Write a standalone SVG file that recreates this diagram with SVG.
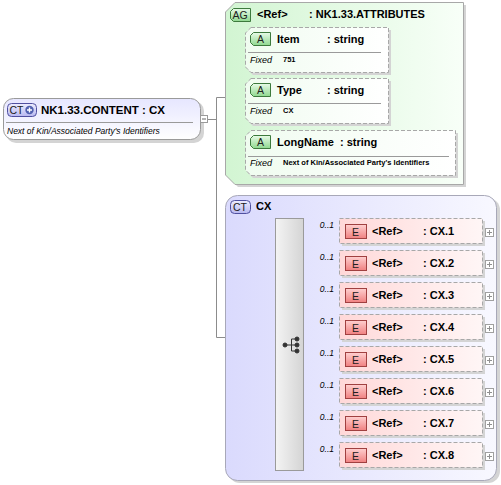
<svg xmlns="http://www.w3.org/2000/svg" width="501" height="485" viewBox="0 0 501 485">
<defs>
<linearGradient id="gNode" x1="0" y1="0" x2="0" y2="1"><stop offset="0" stop-color="#e6e6ff"/><stop offset="1" stop-color="#ffffff"/></linearGradient>
<linearGradient id="gAG" x1="0" y1="0" x2="1" y2="0"><stop offset="0" stop-color="#d2f5d2"/><stop offset="1" stop-color="#f8fff8"/></linearGradient>
<linearGradient id="gCT" x1="0" y1="0" x2="1" y2="0"><stop offset="0" stop-color="#dadafd"/><stop offset="1" stop-color="#f8f8ff"/></linearGradient>
<linearGradient id="gAttr" x1="0" y1="0" x2="1" y2="0"><stop offset="0" stop-color="#f0fcf0"/><stop offset="1" stop-color="#ffffff"/></linearGradient>
<linearGradient id="gEl" x1="0" y1="0" x2="1" y2="0"><stop offset="0" stop-color="#ffd8d8"/><stop offset="1" stop-color="#fff6f6"/></linearGradient>
<linearGradient id="gSeq" x1="0" y1="0" x2="1" y2="0"><stop offset="0" stop-color="#f4f4f4"/><stop offset="1" stop-color="#d4d4d4"/></linearGradient>
<linearGradient id="gA" x1="0" y1="0" x2="0" y2="1"><stop offset="0" stop-color="#e8fbe8"/><stop offset="1" stop-color="#8fd88f"/></linearGradient>
<linearGradient id="gE" x1="0" y1="0" x2="0" y2="1"><stop offset="0" stop-color="#ffd0d0"/><stop offset="1" stop-color="#f08080"/></linearGradient>
<linearGradient id="gB" x1="0" y1="0" x2="0" y2="1"><stop offset="0" stop-color="#eeeeff"/><stop offset="1" stop-color="#b8b8f0"/></linearGradient>
</defs>
<style>
text{font-family:"Liberation Sans",Arial,sans-serif;fill:#000}
.ln{stroke:#8c8c8c;stroke-width:1;fill:none}
.sh{fill:#d4d4d4}
.attr{fill:url(#gAttr);stroke:#a8a8a8;stroke-dasharray:4,2}
.el{fill:url(#gEl);stroke:#a8a8a8;stroke-dasharray:4,2}
.sep{stroke:#9a9a9a;stroke-width:1}
.bA{fill:url(#gA);stroke:#3d7a3d;stroke-width:1}
.bE{fill:url(#gE);stroke:#a04040;stroke-width:1}
.bB{fill:url(#gB);stroke:#5050a0;stroke-width:1}
.bt{font-size:10.5px;fill:#202020}
.t11{font-size:11px;font-weight:bold}
.fx{font-size:9px;font-style:italic}
.fv{font-size:7.5px;font-weight:bold}
.oc{font-size:8.5px;font-style:italic}
.pl{fill:#ffffff;stroke:#a0a0a0}
.pp{stroke:#909090;stroke-width:1}
</style>
<g id="connectors">
<path class="ln" d="M208,119.5 H216.5 M216.5,97.5 V337.5 M216.5,97.5 H235.5 M216.5,337.5 H225"/>
<path class="ln" d="M235.5,48.5 V151.5 M235.5,48.5 H245 M235.5,100.5 H245 M235.5,151.5 H245"/>
<path class="ln" d="M225,345.5 H276"/>
<path class="ln" d="M304,231.5 H340 M304,263.5 H340 M304,295.5 H340 M304,327.5 H340 M304,359.5 H340 M304,391.5 H340 M304,423.5 H340 M304,455.5 H340"/>
<text x="270" y="342" class="oc" text-anchor="end">[1]..[1]</text>
</g>
<g id="nk1_33_content">
<rect x="6" y="101" width="198" height="42" rx="10" class="sh"/>
<rect x="3.5" y="98.5" width="197" height="41" rx="10" fill="url(#gNode)" stroke="#9a9a9a"/>
<rect x="7.5" y="103.5" width="29" height="13" rx="4" class="bB"/>
<text x="9.5" y="114" class="bt">CT</text>
<circle cx="29.5" cy="110" r="4.2" fill="#5060b0"/>
<path d="M27,110 H32 M29.5,107.5 V112.5" stroke="#fff" stroke-width="1.4"/>
<text x="41" y="114" font-size="11.5" font-weight="bold">NK1.33.CONTENT : CX</text>
<line x1="6" y1="122.5" x2="193" y2="122.5" class="sep"/>
<text x="7" y="134" font-size="8.5" font-style="italic">Next of Kin/Associated Party's Identifiers</text>
<rect x="200.5" y="115.5" width="7" height="7" fill="#fff" stroke="#9a9a9a"/>
<path d="M202,119 H206" stroke="#666"/>
</g>
<g id="nk1_33_attributes">
<path d="M238,5 H466 V187 H238 L228,177 V15 Z" class="sh"/>
<path d="M235,2.5 H463.5 V184.5 H235 L225.5,175 V12 Z" fill="url(#gAG)" stroke="#a8a8a8"/>
<path d="M233.5,8.5 H250.5 V21.5 H233.5 L230.5,18.5 V11.5 Z" class="bA"/>
<text x="232.5" y="19" class="bt" font-size="9.5px">AG</text>
<text x="257" y="18" class="t11">&lt;Ref&gt;</text>
<text x="309" y="18" class="t11">: NK1.33.ATTRIBUTES</text>
</g>
<g id="attr_item">
<path d="M253,30 H391 V75 H253 L248,70 V35 Z" class="sh"/>
<path d="M251,27.5 H388.5 V72.5 H251 L245.5,67 V33 Z" class="attr"/>
<path d="M253.5,32.5 H270.5 V45.5 H253.5 L250.5,42.5 V35.5 Z" class="bA"/>
<text x="257" y="43" class="bt">A</text>
<text x="277" y="43" class="t11">Item</text>
<text x="327" y="43" class="t11">: string</text>
<line x1="248" y1="52.5" x2="381" y2="52.5" class="sep"/>
<text x="250" y="63" class="fx">Fixed</text>
<text x="283" y="62" class="fv">751</text>
</g>
<g id="attr_type">
<path d="M253,81 H391 V126 H253 L248,121 V86 Z" class="sh"/>
<path d="M251,78.5 H388.5 V123.5 H251 L245.5,118 V84 Z" class="attr"/>
<path d="M253.5,83.5 H270.5 V96.5 H253.5 L250.5,93.5 V86.5 Z" class="bA"/>
<text x="257" y="94" class="bt">A</text>
<text x="277" y="94" class="t11">Type</text>
<text x="327" y="94" class="t11">: string</text>
<line x1="248" y1="103.5" x2="381" y2="103.5" class="sep"/>
<text x="250" y="114" class="fx">Fixed</text>
<text x="283" y="113" class="fv">CX</text>
</g>
<g id="attr_longname">
<path d="M253,133 H458 V178 H253 L248,173 V138 Z" class="sh"/>
<path d="M251,130.5 H455.5 V175.5 H251 L245.5,170 V136 Z" class="attr"/>
<path d="M253.5,135.5 H270.5 V148.5 H253.5 L250.5,145.5 V138.5 Z" class="bA"/>
<text x="257" y="146" class="bt">A</text>
<text x="277" y="146" class="t11">LongName</text>
<text x="340" y="146" class="t11">: string</text>
<line x1="248" y1="156.5" x2="449" y2="156.5" class="sep"/>
<text x="250" y="166" class="fx">Fixed</text>
<text x="283" y="165" class="fv">Next of Kin/Associated Party's Identifiers</text>
</g>
<g id="cx_type">
<rect x="228" y="198" width="272" height="285" rx="12" class="sh"/>
<rect x="225.5" y="195.5" width="271" height="285" rx="12" fill="url(#gCT)" stroke="#a8a8b8"/>
<rect x="230.5" y="200.5" width="20" height="13" rx="4" class="bB"/>
<text x="233" y="211" class="bt">CT</text>
<text x="256" y="210" class="t11">CX</text>
</g>
<g id="sequence">
<rect x="275.5" y="218.5" width="28" height="252" fill="url(#gSeq)" stroke="#9a9a9a"/>
<g fill="#333" stroke="#333">
<circle cx="285" cy="345" r="2"/>
<circle cx="297" cy="339" r="2"/>
<circle cx="297" cy="345" r="2"/>
<circle cx="297" cy="351" r="2"/>
<path d="M285,345 H297 M291.5,339 V351 M291.5,339 H297 M291.5,351 H297" fill="none" stroke-width="1"/>
</g>
</g>
<g id="cx1">
<rect x="342" y="221" width="143" height="25" class="sh"/>
<rect x="339.5" y="218.5" width="143" height="25" class="el"/>
<rect x="345.5" y="224.5" width="21" height="14" class="bE"/>
<text x="352" y="235.5" class="bt">E</text>
<text x="372" y="235" class="t11">&lt;Ref&gt;</text>
<text x="423" y="235" class="t11">: CX.1</text>
<text x="334" y="228" class="oc" text-anchor="end">0..1</text>
<rect x="485.5" y="228.5" width="8" height="8" class="pl"/>
<path d="M487,232.5 H492 M489.5,230 V235" class="pp"/>
</g>
<g id="cx2">
<rect x="342" y="253" width="143" height="25" class="sh"/>
<rect x="339.5" y="250.5" width="143" height="25" class="el"/>
<rect x="345.5" y="256.5" width="21" height="14" class="bE"/>
<text x="352" y="267.5" class="bt">E</text>
<text x="372" y="267" class="t11">&lt;Ref&gt;</text>
<text x="423" y="267" class="t11">: CX.2</text>
<text x="334" y="260" class="oc" text-anchor="end">0..1</text>
<rect x="485.5" y="260.5" width="8" height="8" class="pl"/>
<path d="M487,264.5 H492 M489.5,262 V267" class="pp"/>
</g>
<g id="cx3">
<rect x="342" y="285" width="143" height="25" class="sh"/>
<rect x="339.5" y="282.5" width="143" height="25" class="el"/>
<rect x="345.5" y="288.5" width="21" height="14" class="bE"/>
<text x="352" y="299.5" class="bt">E</text>
<text x="372" y="299" class="t11">&lt;Ref&gt;</text>
<text x="423" y="299" class="t11">: CX.3</text>
<text x="334" y="292" class="oc" text-anchor="end">0..1</text>
<rect x="485.5" y="292.5" width="8" height="8" class="pl"/>
<path d="M487,296.5 H492 M489.5,294 V299" class="pp"/>
</g>
<g id="cx4">
<rect x="342" y="317" width="143" height="25" class="sh"/>
<rect x="339.5" y="314.5" width="143" height="25" class="el"/>
<rect x="345.5" y="320.5" width="21" height="14" class="bE"/>
<text x="352" y="331.5" class="bt">E</text>
<text x="372" y="331" class="t11">&lt;Ref&gt;</text>
<text x="423" y="331" class="t11">: CX.4</text>
<text x="334" y="324" class="oc" text-anchor="end">0..1</text>
<rect x="485.5" y="324.5" width="8" height="8" class="pl"/>
<path d="M487,328.5 H492 M489.5,326 V331" class="pp"/>
</g>
<g id="cx5">
<rect x="342" y="349" width="143" height="25" class="sh"/>
<rect x="339.5" y="346.5" width="143" height="25" class="el"/>
<rect x="345.5" y="352.5" width="21" height="14" class="bE"/>
<text x="352" y="363.5" class="bt">E</text>
<text x="372" y="363" class="t11">&lt;Ref&gt;</text>
<text x="423" y="363" class="t11">: CX.5</text>
<text x="334" y="356" class="oc" text-anchor="end">0..1</text>
<rect x="485.5" y="356.5" width="8" height="8" class="pl"/>
<path d="M487,360.5 H492 M489.5,358 V363" class="pp"/>
</g>
<g id="cx6">
<rect x="342" y="381" width="143" height="25" class="sh"/>
<rect x="339.5" y="378.5" width="143" height="25" class="el"/>
<rect x="345.5" y="384.5" width="21" height="14" class="bE"/>
<text x="352" y="395.5" class="bt">E</text>
<text x="372" y="395" class="t11">&lt;Ref&gt;</text>
<text x="423" y="395" class="t11">: CX.6</text>
<text x="334" y="388" class="oc" text-anchor="end">0..1</text>
<rect x="485.5" y="388.5" width="8" height="8" class="pl"/>
<path d="M487,392.5 H492 M489.5,390 V395" class="pp"/>
</g>
<g id="cx7">
<rect x="342" y="413" width="143" height="25" class="sh"/>
<rect x="339.5" y="410.5" width="143" height="25" class="el"/>
<rect x="345.5" y="416.5" width="21" height="14" class="bE"/>
<text x="352" y="427.5" class="bt">E</text>
<text x="372" y="427" class="t11">&lt;Ref&gt;</text>
<text x="423" y="427" class="t11">: CX.7</text>
<text x="334" y="420" class="oc" text-anchor="end">0..1</text>
<rect x="485.5" y="420.5" width="8" height="8" class="pl"/>
<path d="M487,424.5 H492 M489.5,422 V427" class="pp"/>
</g>
<g id="cx8">
<rect x="342" y="445" width="143" height="25" class="sh"/>
<rect x="339.5" y="442.5" width="143" height="25" class="el"/>
<rect x="345.5" y="448.5" width="21" height="14" class="bE"/>
<text x="352" y="459.5" class="bt">E</text>
<text x="372" y="459" class="t11">&lt;Ref&gt;</text>
<text x="423" y="459" class="t11">: CX.8</text>
<text x="334" y="452" class="oc" text-anchor="end">0..1</text>
<rect x="485.5" y="452.5" width="8" height="8" class="pl"/>
<path d="M487,456.5 H492 M489.5,454 V459" class="pp"/>
</g>
</svg>
